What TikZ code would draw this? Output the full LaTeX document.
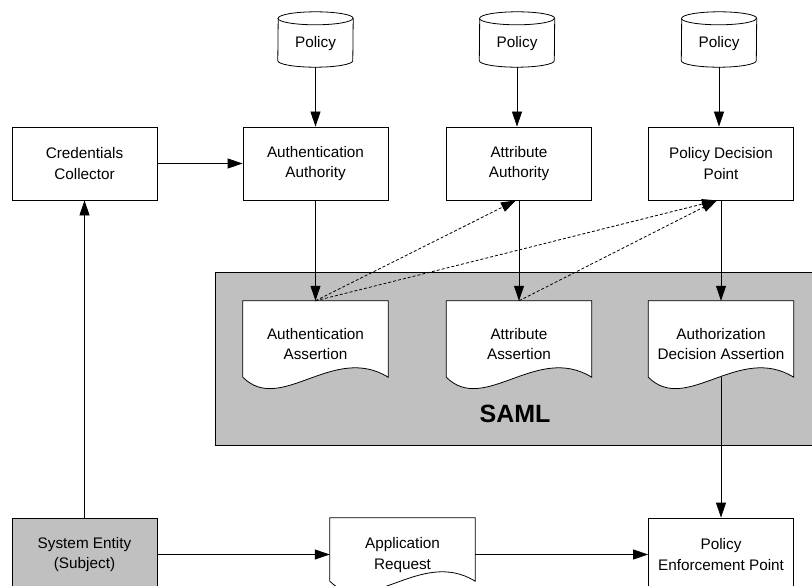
\documentclass[tikz,border=0pt]{standalone}
\usepackage{fontspec}
\setmainfont{Liberation Sans}
\usetikzlibrary{arrows.meta,calc}
\definecolor{panelgray}{HTML}{C0C0C0}

% document shape with wavy bottom edge, drawn round an empty node
\newcommand\wavedoc[1]{%
  \draw[docline] (#1.south west) -- (#1.north west) -- (#1.north east) -- (#1.south east)
    .. controls +(-55,-34) and +(38,38) .. (#1.south west) -- cycle;}
% database cylinder drawn round an empty node
\newcommand\dbcyl[1]{%
  \draw[docline] ($(#1.south west)+(0,-6.5)$) arc[start angle=180,end angle=360,x radius=37.5pt,y radius=6.5pt]
    -- ($(#1.north east)+(0,6.5)$) arc[start angle=0,end angle=180,x radius=37.5pt,y radius=6.5pt] -- cycle;
  \draw[line width=0.8pt] ($(#1.north west)+(0,6.5)$) arc[start angle=180,end angle=360,x radius=37.5pt,y radius=6.5pt];}

\begin{document}
\begin{tikzpicture}[x=1pt,y=-1pt,
  txt/.style={font=\fontsize{15.3}{20.5}\selectfont, align=center, inner sep=0pt},
  box/.style={txt, draw, line width=0.8pt, fill=white, minimum width=145pt, minimum height=73pt},
  docbody/.style={draw=none, minimum width=145pt, inner sep=0pt},
  cylbody/.style={draw=none, minimum width=75pt, minimum height=55pt, inner sep=0pt},
  docline/.style={line width=0.8pt, fill=white},
  arr/.style={-{Triangle[length=15pt,width=10pt]}, line width=0.8pt},
  dasharr/.style={arr, dash pattern=on 3pt off 2pt}]
\useasboundingbox (0,0) rectangle (812,586);
\clip (0,0) rectangle (812,586);

% SAML panel
\draw[fill=panelgray, line width=0.8pt] (215,272) rectangle (840,445);
\node[font=\fontsize{25}{28}\selectfont\bfseries] (saml) at (515,414) {SAML};

% policy stores
\foreach \n/\x in {polA/315.5, polB/517, polC/719}{
  \node[cylbody] (\n) at (\x,39.5) {};
  \dbcyl{\n}
  \node[txt] (\n t) at ($(\n.center)+(0,4)$) {Policy};
}

% authorities
\node[box] (cred) at (84.5,163.5) {Credentials\\Collector};
\node[box] (authA) at (315.5,163.5) {Authentication\\Authority};
\node[box] (attrA) at (519,163.5) {Attribute\\Authority};
\node[box] (pdp) at (721,163.5) {Policy Decision\\Point};

% assertions
\foreach \n/\x/\a/\b in {authAs/315.5/Authentication/Assertion, attrAs/519/Attribute/Assertion, authzAs/721/Authorization/Decision Assertion}{
  \node[docbody, minimum height=76pt] (\n) at (\x,339) {};
  \wavedoc{\n}
  \node[txt] (\n t) at (\x,344) {\a\\\b};
}

% bottom row
\node[box, fill=panelgray] (sys) at (84.5,554.5) {System Entity\\(Subject)};
\node[docbody, minimum height=63pt] (req) at (402.5,549.5) {};
\wavedoc{req}
\node[txt] (reqt) at (402.5,555) {Application\\Request};
\node[box] (pep) at (721,554.5) {Policy\\Enforcement Point};

% connectors
\draw[arr] (polA.south) -- (polA.south |- authA.north);
\draw[arr] (polB.south) -- (polB.south |- attrA.north);
\draw[arr] (polC.south) -- (polC.south |- pdp.north);
\draw[arr] (cred.east) -- (authA.west);
\draw[arr] (authA.south) -- (authAs.north);
\draw[arr] (attrA.south) -- (attrAs.north);
\draw[arr] (pdp.south) -- (authzAs.north);
\draw[dasharr] (authAs.north) -- ($(attrA.south)+(-3,0)$);
\draw[dasharr] (authAs.north) -- ($(pdp.south)+(-4,0)$);
\draw[dasharr] (attrAs.north) -- ($(pdp.south)+(-4,0)$);
\draw[arr] (authzAs.south) -- (pep.north);
\draw[arr] (sys.north) -- (cred.south);
\draw[arr] (sys.east) -- (req.west |- sys.east);
\draw[arr] (req.east |- pep.west) -- (pep.west);
\end{tikzpicture}
\end{document}
